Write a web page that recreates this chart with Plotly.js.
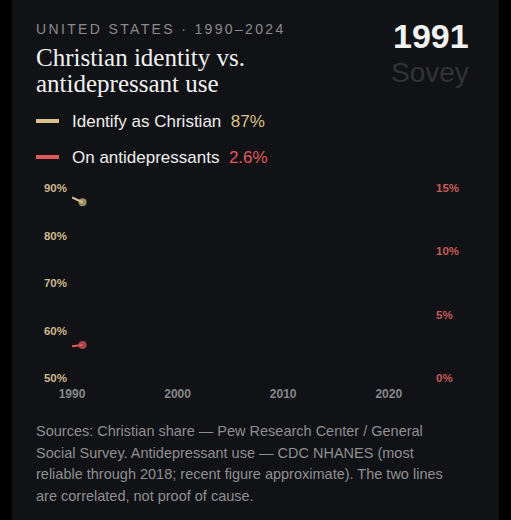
<!DOCTYPE html>
<html>
<head>
<meta charset="utf-8">
<script src="https://cdn.plot.ly/plotly-3.0.1.min.js"></script>
<style>
  html, body { margin: 0; padding: 0; background: #000; width: 511px; height: 520px; overflow: hidden; }
  #card { position: absolute; left: 12px; top: -12px; width: 487px; height: 544px; background: #111215; border-radius: 12px; }
  #chart { position: absolute; left: 0; top: 0; width: 511px; height: 520px; }
</style>
</head>
<body>
<div id="card"></div>
<div id="chart"></div>
<script>
// Years shown so far in the animation, and the two series
const years = [1990, 1991];
const christianShare = [88, 87];          // % identifying as Christian
const antidepressantUse = [2.5, 2.6];     // % on antidepressants
const currentYear = '1991';

const leftTicks = [50, 60, 70, 80, 90];
const leftTickText = ['50%', '60%', '70%', '80%', '90%'];
const rightTicks = [0, 5, 10, 15];
const rightTickText = ['0%', '5%', '10%', '15%'];
const xTicks = [1990, 2000, 2010, 2020];

const sourceLines = [
  'Sources: Christian share — Pew Research Center / General',
  'Social Survey. Antidepressant use — CDC NHANES (most',
  'reliable through 2018; recent figure approximate). The two lines',
  'are correlated, not proof of cause.'
];

const TAN = '#d9c28a';
const RED = '#e05a5c';
const W = 511, H = 520;
const M = { l: 72, r: 80, t: 188, b: 142 };
const PW = W - M.l - M.r, PH = H - M.t - M.b;
// pixel -> paper coordinates for text placed around the plot
const px = x => (x - M.l) / PW;
const py = y => (H - M.b - y) / PH;

const sans = 'Liberation Sans, Arial, sans-serif';
const serif = 'Liberation Serif, Times New Roman, serif';

function label(text, x, y, size, color, opts = {}) {
  return Object.assign({
    text, x: px(x), y: py(y), xref: 'paper', yref: 'paper',
    xanchor: 'left', yanchor: 'middle', showarrow: false,
    font: { family: sans, size, color }
  }, opts);
}

const lastC = christianShare[christianShare.length - 1];
const lastA = antidepressantUse[antidepressantUse.length - 1];

const annotations = [
  label('UNITED STATES · 1990–2024', 34, 29, 14, '#8b8b8e'),
  label('Christian identity vs.', 34, 57, 25, '#f2f2f2', { font: { family: serif, size: 25, color: '#f2f2f2' } }),
  label('antidepressant use', 34, 83, 25, '#f2f2f2', { font: { family: serif, size: 25, color: '#f2f2f2' } }),
  label('<b>' + currentYear + '</b>', 471, 36, 34, '#f2f2f2', { xanchor: 'right' }),
  label('Sovey', 471, 73, 28, '#313236', { xanchor: 'right' }),
  label('Identify as Christian  <span style="color:' + TAN + '">' + lastC + '%</span>', 70, 121, 17, '#ededed'),
  label('On antidepressants  <span style="color:' + RED + '">' + lastA + '%</span>', 70, 157, 17, '#ededed')
];
sourceLines.forEach((t, i) => {
  annotations.push(label(t, 34, 431 + i * 21.5, 14.5, '#8f8f92'));
});

const shapes = [
  { type: 'line', xref: 'paper', yref: 'paper', x0: px(36), x1: px(59), y0: py(121), y1: py(121),
    line: { color: TAN, width: 4 } },
  { type: 'line', xref: 'paper', yref: 'paper', x0: px(36), x1: px(59), y0: py(157), y1: py(157),
    line: { color: RED, width: 4 } }
];

// the newest point of each series carries a dot
const lastMarker = arr => arr.map((_, i) => (i === arr.length - 1 ? 8 : 0));

const traces = [
  {
    x: years, y: christianShare, type: 'scatter', mode: 'lines+markers',
    line: { color: TAN, width: 2 }, marker: { color: TAN, size: lastMarker(years), line: { width: 0 } },
    hoverinfo: 'skip', yaxis: 'y'
  },
  {
    x: years, y: antidepressantUse, type: 'scatter', mode: 'lines+markers',
    line: { color: RED, width: 2 }, marker: { color: RED, size: lastMarker(years), line: { width: 0 } },
    hoverinfo: 'skip', yaxis: 'y2'
  }
];

const layout = {
  width: W, height: H,
  margin: M,
  paper_bgcolor: 'rgba(0,0,0,0)',
  plot_bgcolor: 'rgba(0,0,0,0)',
  showlegend: false,
  xaxis: {
    range: [1990, 2024], tickvals: xTicks, ticktext: xTicks.map(String),
    showgrid: false, zeroline: false, showline: false, ticks: '',
    tickfont: { family: sans, size: 12, color: '#87878a', weight: 'bold' },
    ticklabelstandoff: 7, automargin: false, fixedrange: true
  },
  yaxis: {
    range: [50, 90], tickvals: leftTicks, ticktext: leftTickText,
    showgrid: false, zeroline: false, showline: false, ticks: '',
    tickfont: { family: sans, size: 11.5, color: '#cdb98c', weight: 'bold' },
    ticklabelstandoff: 4, automargin: false, fixedrange: true
  },
  yaxis2: {
    range: [0, 15], tickvals: rightTicks, ticktext: rightTickText,
    overlaying: 'y', side: 'right',
    showgrid: false, zeroline: false, showline: false, ticks: '',
    tickfont: { family: sans, size: 11.5, color: '#c65a5a', weight: 'bold' },
    ticklabelstandoff: 4, automargin: false, fixedrange: true
  },
  annotations, shapes
};

Plotly.newPlot('chart', traces, layout, { staticPlot: true, displayModeBar: false }).then(() => {
  // tracked-out kicker line: keep its left edge fixed while widening the letter spacing
  const t = document.querySelector('g.annotation[data-index="0"] text');
  if (t) {
    const box = t.getBBox();
    t.setAttribute('text-anchor', 'start');
    t.setAttribute('x', box.x);
    t.style.letterSpacing = '2.35px';
  }
});
</script>
</body>
</html>
